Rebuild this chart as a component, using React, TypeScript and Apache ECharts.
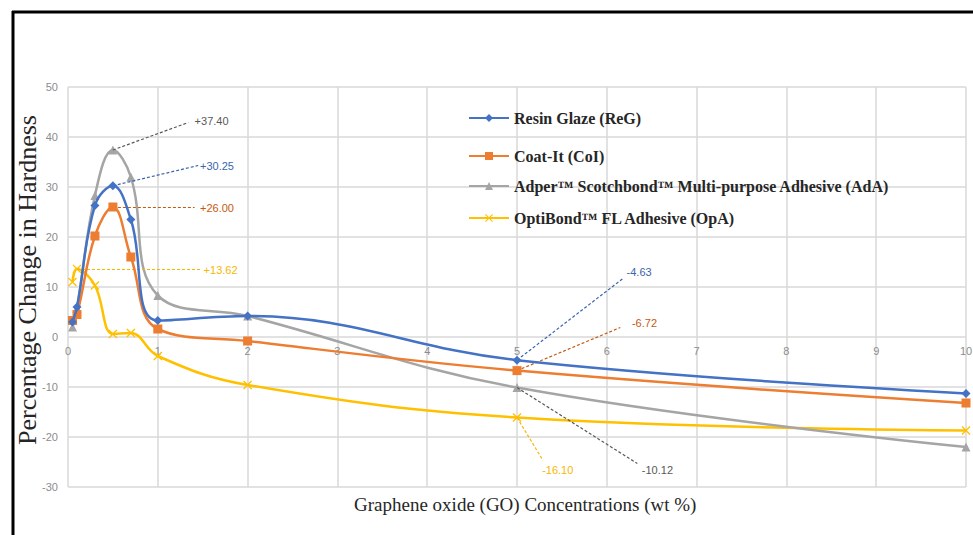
import React, { useEffect, useRef } from "react";
import * as echarts from "echarts";

const concentrations = [0.05, 0.1, 0.3, 0.5, 0.7, 1, 2, 5, 10];
const resinGlaze = [3, 6, 26.3, 30.25, 23.5, 3.3, 4.2, -4.63, -11.3];
const coatIt = [3.3, 4.5, 20.2, 26.0, 16.0, 1.6, -0.8, -6.72, -13.2];
const adper = [2, 5.7, 28.3, 37.4, 32, 8.3, 4.2, -10.12, -22];
const optiBond = [11, 13.62, 10.3, 0.6, 0.8, -3.8, -9.6, -16.1, -18.7];

const seriesNames = [
  "Resin Glaze (ReG)",
  "Coat-It (CoI)",
  "Adper™ Scotchbond™ Multi-purpose Adhesive (AdA)",
  "OptiBond™ FL Adhesive (OpA)",
];
const seriesColors = ["#4472C4", "#ED7D31", "#A5A5A5", "#FFC000"];
const labelColors = ["#3B64AD", "#C55A11", "#595959", "#F5B800"];

// annotations: [point x, point y, line end x, line end y, label x, label y, text]
const peakNotes: [number, number, number, number, number, number, string][] = [
  [0.5, 30.25, 1.45, 34.3, 1.47, 34.3, "+30.25"],
  [0.5, 26.0, 1.41, 26.0, 1.47, 25.8, "+26.00"],
  [0.5, 37.4, 1.34, 42.9, 1.41, 43.3, "+37.40"],
  [0.1, 13.62, 1.47, 13.62, 1.51, 13.5, "+13.62"],
];
const fiveNotes: [number, number, number, number, number, number, string][] = [
  [5, -4.63, 6.18, 11.7, 6.22, 13.1, "-4.63"],
  [5, -6.72, 6.15, 1.9, 6.28, 2.9, "-6.72"],
  [5, -10.12, 6.34, -25.3, 6.39, -26.5, "-10.12"],
  [5, -16.1, 5.29, -24.7, 5.28, -26.5, "-16.10"],
];

const allValues = [resinGlaze, coatIt, adper, optiBond];
const symbols = [
  "diamond",
  "rect",
  "triangle",
  "path://M0,1L1,0L5,4L9,0L10,1L6,5L10,9L9,10L5,6L1,10L0,9L4,5Z",
];
const symbolSizes = [9, 9, 9, 9];
const legendTops = [105, 143, 173, 205];

export default function App() {
  const ref = useRef<HTMLDivElement>(null);
  useEffect(() => {
    if (!ref.current) return;
    const chart = echarts.init(ref.current, null, { renderer: "svg" });
    const serif = "'Liberation Serif', 'Times New Roman', serif";
    const series = allValues.map((vals, i) => {
      const notes = [peakNotes[i], fiveNotes[i]];
      return {
        name: seriesNames[i],
        type: "line",
        smooth: 0.4,
        data: concentrations.map((x, j) => [x, vals[j]]),
        symbol: symbols[i],
        symbolSize: symbolSizes[i],
        showSymbol: true,
        itemStyle: { color: seriesColors[i] },
        lineStyle: { color: seriesColors[i], width: 2.5 },
        z: 3 + (3 - i),
        markLine: {
          silent: true,
          symbol: "none",
          animation: false,
          lineStyle: {
            color: labelColors[i],
            type: [3, 2],
            width: 1.2,
          },
          label: { show: false },
          emphasis: { disabled: true },
          data: notes.map((n) => [
            { coord: [n[0], n[1]] },
            { coord: [n[2], n[3]] },
          ]),
        },
        markPoint: {
          silent: true,
          symbol: "circle",
          symbolSize: 0,
          animation: false,
          label: {
            show: true,
            position: "right",
            distance: 0,
            color: labelColors[i],
            fontSize: 11,
            fontFamily: "'Liberation Sans', Arial, sans-serif",
            formatter: (p: any) => p.name,
          },
          data: notes.map((n) => ({ name: n[6], coord: [n[4], n[5]] })),
        },
      };
    });

    chart.setOption({
      animation: false,
      grid: {
        left: 68,
        right: 7,
        top: 87,
        bottom: 48,
        containLabel: false,
        outerBoundsMode: "none",
      },
      legend: seriesNames.map((name, i) => ({
        data: [name],
        left: 463,
        top: legendTops[i],
        itemWidth: 40,
        itemHeight: 10,
        itemGap: 10,
        textStyle: {
          fontFamily: serif,
          fontWeight: "bold",
          fontSize: 16,
          color: "#262626",
        },
        selectedMode: false,
      })),
      xAxis: {
        type: "value",
        min: 0,
        max: 10,
        interval: 1,
        offset: -150,
        axisLine: { show: false, onZero: false },
        axisTick: { show: false },
        axisLabel: {
          color: "#8C8C8C",
          fontSize: 11,
          margin: 8,
          fontFamily: "'Liberation Sans', Arial, sans-serif",
        },
        splitLine: { show: true, lineStyle: { color: "#D9D9D9", width: 1.5 } },
      },
      yAxis: {
        type: "value",
        min: -30,
        max: 50,
        interval: 10,
        axisLine: { show: false, onZero: false },
        axisTick: { show: false },
        axisLabel: {
          color: "#8C8C8C",
          fontSize: 11,
          margin: 10,
          fontFamily: "'Liberation Sans', Arial, sans-serif",
        },
        splitLine: { show: true, lineStyle: { color: "#D9D9D9", width: 1.5 } },
      },
      graphic: [
        {
          type: "text",
          left: 354,
          top: 495,
          style: {
            text: "Graphene oxide (GO) Concentrations (wt %)",
            font: "19px 'Liberation Serif', 'Times New Roman', serif",
            fill: "#262626",
          },
        },
        {
          type: "text",
          x: 27,
          y: 280,
          rotation: Math.PI / 2,
          style: {
            text: "Percentage Change in Hardness",
            font: "26px 'Liberation Serif', 'Times New Roman', serif",
            fill: "#262626",
            align: "center",
            verticalAlign: "middle",
          },
        },
        {
          type: "line",
          shape: { x1: 12, y1: 12, x2: 973, y2: 12 },
          style: { stroke: "#000", lineWidth: 3 },
        },
        {
          type: "line",
          shape: { x1: 13, y1: 11, x2: 13, y2: 535 },
          style: { stroke: "#000", lineWidth: 3 },
        },
      ],
      series,
    });
    return () => chart.dispose();
  }, []);
  return (
    <div
      ref={ref}
      style={{ position: "fixed", left: 0, top: 0, width: 973, height: 535, background: "#fff" }}
    />
  );
}
